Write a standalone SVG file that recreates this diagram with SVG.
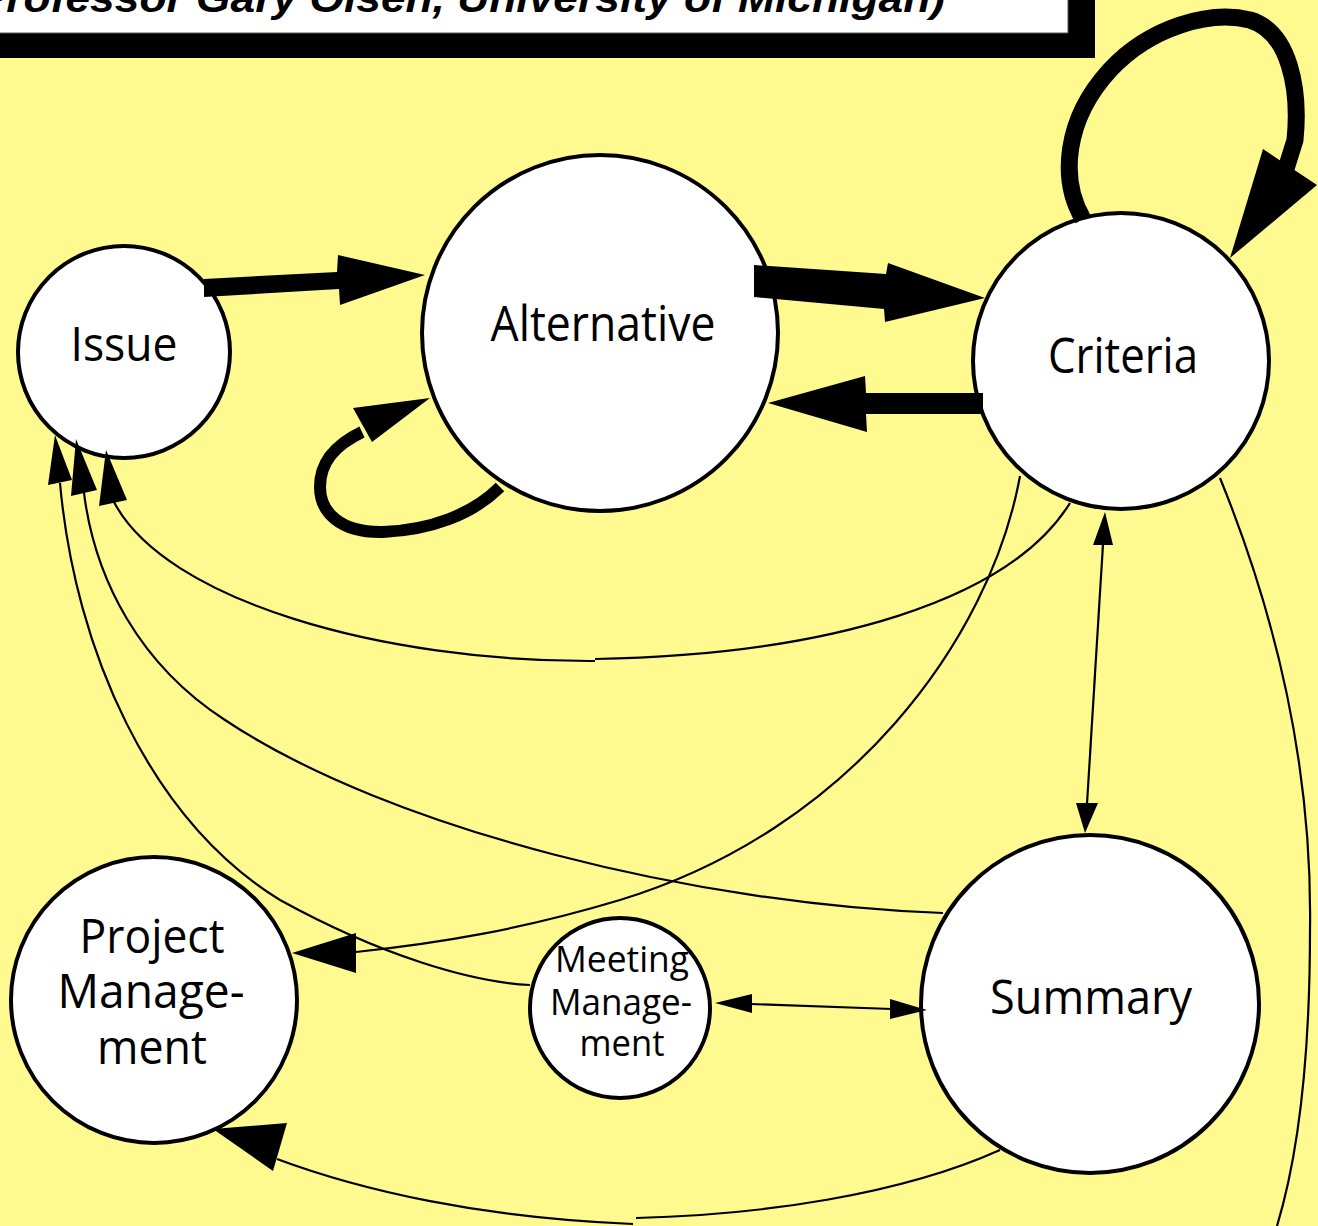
<svg xmlns="http://www.w3.org/2000/svg" width="1318" height="1226" viewBox="0 0 1318 1226">
<style>
.node{fill:#ffffff;stroke:#000;stroke-width:4}
.lbl{font-family:"Open Sans","Noto Sans","DejaVu Sans",sans-serif;fill:#000;text-anchor:middle}
.thin{fill:none;stroke:#000;stroke-width:2.2}
.thick{fill:none;stroke:#000;stroke-linecap:butt}
.head{fill:#000;stroke:none}
</style>
<rect x="0" y="0" width="1318" height="1226" fill="#fffa8f"/>
<g id="banner">
<rect x="-30" y="-25" width="1125" height="83" fill="#000"/>
<rect x="-55" y="-50" width="1123" height="83" fill="#fff" stroke="#555" stroke-width="1"/>
<text x="-38" y="12" font-family="'Liberation Sans',Arial,sans-serif" font-weight="bold" font-style="italic" font-size="40" textLength="983" lengthAdjust="spacingAndGlyphs">(Professor Gary Olsen, University of Michigan)</text>
</g>
<g id="node-issue">
<circle class="node" cx="124" cy="352" r="106"/>
<text class="lbl" x="124" y="361" font-size="48" textLength="107" lengthAdjust="spacingAndGlyphs">Issue</text>
</g>
<g id="node-alternative">
<circle class="node" cx="600" cy="333" r="178"/>
<text class="lbl" x="603" y="341" font-size="50" textLength="225" lengthAdjust="spacingAndGlyphs">Alternative</text>
</g>
<g id="node-criteria">
<circle class="node" cx="1121" cy="361" r="148"/>
<text class="lbl" x="1123" y="373" font-size="50" textLength="150" lengthAdjust="spacingAndGlyphs">Criteria</text>
</g>
<g id="node-project-management">
<circle class="node" cx="154" cy="1000" r="143"/>
<text class="lbl" x="152" y="953" font-size="48" textLength="145" lengthAdjust="spacingAndGlyphs">Project</text>
<text class="lbl" x="151" y="1008" font-size="48" textLength="187" lengthAdjust="spacingAndGlyphs">Manage-</text>
<text class="lbl" x="152" y="1064" font-size="48" textLength="110" lengthAdjust="spacingAndGlyphs">ment</text>
</g>
<g id="node-meeting-management">
<circle class="node" cx="620" cy="1008" r="90"/>
<text class="lbl" x="622" y="972" font-size="37" textLength="134" lengthAdjust="spacingAndGlyphs">Meeting</text>
<text class="lbl" x="621" y="1015" font-size="37" textLength="142" lengthAdjust="spacingAndGlyphs">Manage-</text>
<text class="lbl" x="622" y="1056" font-size="37" textLength="85" lengthAdjust="spacingAndGlyphs">ment</text>
</g>
<g id="node-summary">
<circle class="node" cx="1090" cy="1004" r="169"/>
<text class="lbl" x="1091" y="1014" font-size="48" textLength="202" lengthAdjust="spacingAndGlyphs">Summary</text>
</g>
<g id="connectors">
<!-- Issue -> Alternative -->
<polygon class="head" points="204,279 337,272 338,255 425,275 340,305 339,289 204,297"/>
<!-- Alternative -> Criteria -->
<polygon class="head" points="754,265 886,274 888,263 985,298 885,322 884,309 754,297"/>
<!-- Criteria -> Alternative -->
<polygon class="head" points="983,393 866,393 865,376 768,403 867,432 866,414 983,414"/>
<!-- Criteria self loop -->
<path class="thick" stroke-width="17" d="M1083,219 C1060,180 1064,120 1110,70 C1150,27 1210,10 1250,20 C1290,32 1300,90 1295,140 L1285,172"/>
<polygon class="head" points="1263,149 1317,185 1230,258"/>
<!-- Alternative self loop -->
<path class="thick" stroke-width="12" d="M500,487 C472,515 430,530 383,532 C340,533 320,512 320,487 C320,462 335,445 362,432"/>
<polygon class="head" points="353,408 430,398 372,442"/>
<!-- Criteria -> Issue -->
<path class="thin" d="M1070,503 C1010,600 830,655 595,659"/>
<path class="thin" d="M595,661 C380,662 165,600 114,502"/>
<polygon class="head" points="106,450 99,506 127,500"/>
<!-- Summary -> Issue -->
<path class="thin" d="M943,913 C700,905 390,830 225,720 C140,665 95,580 84,493"/>
<polygon class="head" points="76,439 71,496 97,490"/>
<!-- Meeting Management -> Issue -->
<path class="thin" d="M530,985 C470,982 380,955 280,900 C150,820 75,650 60,483"/>
<polygon class="head" points="55,435 48,485 72,480"/>
<!-- Criteria -> Project Management -->
<path class="thin" d="M1020,476 C990,640 850,830 620,900 C520,930 440,943 356,952"/>
<polygon class="head" points="292,953 356,933 356,973"/>
<!-- Summary -> Project Management -->
<path class="thin" d="M1000,1150 C900,1195 760,1215 636,1218"/>
<path class="thin" d="M633,1224 C480,1218 360,1190 277,1159"/>
<polygon class="head" points="213,1129 287,1123 273,1171"/>
<!-- Criteria -> off page -->
<path class="thin" d="M1220,478 C1290,650 1312,800 1310,930 C1310,1050 1300,1150 1277,1226"/>
<!-- Criteria <-> Summary -->
<line class="thin" x1="1103" y1="544" x2="1087" y2="804"/>
<polygon class="head" points="1105,512 1093,545 1113,545"/>
<polygon class="head" points="1085,833 1076,803 1098,803"/>
<!-- Meeting Management <-> Summary -->
<line class="thin" x1="750" y1="1004" x2="892" y2="1009"/>
<polygon class="head" points="715,1003 752,994 752,1013"/>
<polygon class="head" points="927,1010 890,999 890,1019"/>
</g>
</svg>
